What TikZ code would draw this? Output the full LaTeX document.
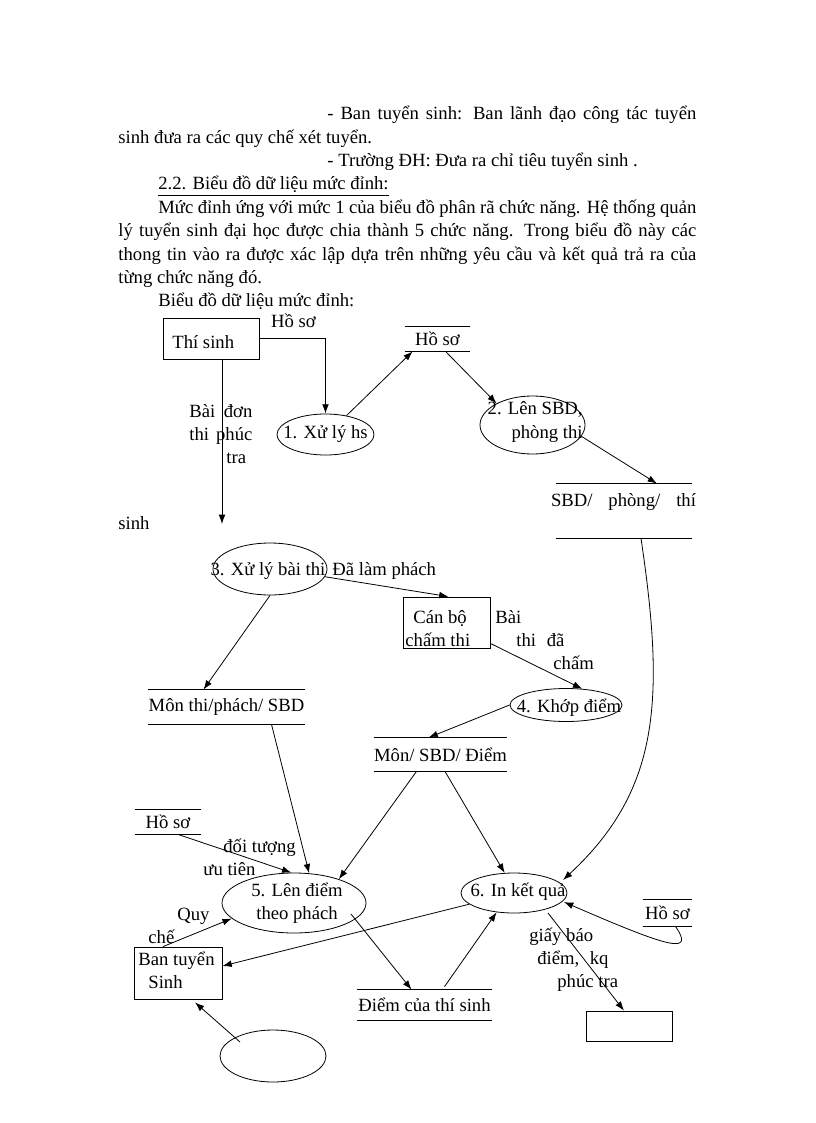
\documentclass[tikz,border=0pt]{standalone}
\usepackage{fontspec}
\setmainfont{Liberation Serif}
\usetikzlibrary{arrows.meta,shapes.geometric}
\newdimen\pxu
\pxu=0.75pt
\tikzset{
  proc/.style={draw, ellipse, inner sep=0pt},
  ent/.style={draw, rectangle, inner sep=0pt},
  store/.style={rectangle, inner sep=0pt},
  lbl/.style={inner sep=0pt, align=left},
  flow/.style={-{Latex[length=7pt,width=5pt]}},
}
\begin{document}
\begin{tikzpicture}[x=0.75pt, y=-0.75pt, line width=0.6pt,
    font=\fontsize{14pt}{17.3pt}\selectfont]
      \path[fill=white] (0,0) rectangle (816,1123);
      \useasboundingbox (0,0) rectangle (816,1123);
      \begin{scope}[every node/.style={anchor=base west, inner sep=0pt}]
        \node (l1) at (327,120) {\hbox to 369\pxu{- Ban tuyển sinh: Ban lãnh đạo công tác tuyển}};
        \node (l2) at (118,143.3) {sinh đưa ra các quy chế xét tuyển.};
        \node (l3) at (327,166.6) {- Trường ĐH: Đưa ra chỉ tiêu tuyển sinh .};
        \node (l4) at (158,190) {\underline{2.2. Biểu đồ dữ liệu mức đỉnh:}};
        \node (l5) at (158,213.3) {\hbox to 538\pxu{Mức đỉnh ứng với mức 1 của biểu đồ phân rã chức năng. Hệ thống quản}};
        \node (l6) at (118,236.6) {\hbox to 578\pxu{lý tuyển sinh đại học được chia thành 5 chức năng. Trong biểu đồ này các}};
        \node (l7) at (118,260) {\hbox to 578\pxu{thong tin vào ra được xác lập dựa trên những yêu cầu và kết quả trả ra của}};
        \node (l8) at (118,283.3) {từng chức năng đó.};
        \node (l9) at (158,306.6) {Biểu đồ dữ liệu mức đỉnh:};
      \end{scope}
      \node[ent, minimum width=96\pxu, minimum height=41\pxu] (ts) at (211,338.5) {};
      \node[lbl, anchor=west] (tsT) at (172,342) {Thí sinh};
      \node[lbl] (hs0) at (293.5,321) {Hồ sơ};
      \node[proc, minimum width=97\pxu, minimum height=41\pxu] (p1) at (325.5,434.5) {};
      \node[lbl] (p1T) at (p1) {1. Xử lý hs};
      \node[proc, minimum width=105\pxu, minimum height=58\pxu] (p2) at (532.5,425) {};
      \node[lbl, align=right, anchor=east] (p2T) at (583,422) {2. Lên SBD,\\phòng thi};
      \node[proc, minimum width=114\pxu, minimum height=52\pxu] (p3) at (270,569) {};
      \node[lbl] (p3T) at (268,571) {3. Xử lý bài thi};
      \node[lbl, anchor=west] (dlp) at (332,571) {Đã làm phách};
      \node[proc, minimum width=112\pxu, minimum height=33\pxu] (p4) at (566,705) {};
      \node[lbl] (p4T) at (569,708) {4. Khớp điểm};
      \node[proc, minimum width=144\pxu, minimum height=60\pxu] (p5) at (294,903) {};
      \node[lbl, align=center] (p5T) at (297,903) {5. Lên điểm\\theo phách};
      \node[proc, minimum width=106\pxu, minimum height=40\pxu] (p6) at (514,893) {};
      \node[lbl] (p6T) at (518,892) {6. In kết quả};
      \node[ent, minimum width=87\pxu, minimum height=51\pxu] (cb) at (446.5,622.5) {};
      \node[lbl, anchor=west] (cbT) at (405,629) {\hspace*{8\pxu}Cán bộ\\chấm thi};
      \node[ent, minimum width=88\pxu, minimum height=52\pxu] (ban) at (178,973) {};
      \node[lbl, anchor=west] (banT) at (138,970.5) {Ban tuyển\\\hspace*{10\pxu}Sinh};
      \node[ent, minimum width=86\pxu, minimum height=30\pxu] (ebox) at (629,1026) {};
      \node[proc, minimum width=106\pxu, minimum height=52\pxu] (eell) at (273,1056) {};
      \node[store, minimum width=65\pxu, minimum height=24\pxu] (s1) at (437.5,339) {Hồ sơ};
      \node[store, minimum width=136\pxu, minimum height=54\pxu] (sSBD) at (624,511) {};
      \node[lbl] (sbdT) at (623.5,502) {\hbox to 145\pxu{SBD/ phòng/ thí}};
      \node[lbl, anchor=west] (sbdT2) at (118,523) {sinh};
      \node[store, minimum width=143\pxu, minimum height=34\pxu] (sMon1) at (226.5,707) {Môn thi/phách/ SBD};
      \node[store, minimum width=125\pxu, minimum height=33\pxu] (sMon2) at (440.5,754.5) {Môn/ SBD/ Điểm};
      \node[store, minimum width=66\pxu, minimum height=24\pxu] (sHoso2) at (168,822) {Hồ sơ};
      \node[store, minimum width=135\pxu, minimum height=30\pxu] (sDiem) at (424.5,1005) {Điểm của thí sinh};
      \node[store, minimum width=49\pxu, minimum height=26\pxu] (sHoso3) at (667.5,913) {Hồ sơ};
      \foreach \s in {s1,sSBD,sMon1,sMon2,sHoso2,sDiem,sHoso3}
        \draw (\s.north west) -- (\s.north east) (\s.south west) -- (\s.south east);
      \coordinate (c1) at (222,524);
      \node[lbl, anchor=west] (bdT) at (189,434) {\makebox[63\pxu][s]{Bài đơn}\\\makebox[63\pxu][s]{thi phúc}\\\hspace*{37\pxu}tra};
      \node[lbl, anchor=west] (btd) at (495,640) {Bài\\\hspace*{21\pxu}\makebox[48\pxu][s]{thi đã}\\\hspace*{58\pxu}chấm};
      \node[lbl, anchor=west] (ut) at (203,857) {\hspace*{20\pxu}đối tượng\\ưu tiên};
      \node[lbl, anchor=west] (qc) at (148,925.5) {\hspace*{29\pxu}Quy\\chế};
      \node[lbl, anchor=west] (gb) at (529,960) {giấy báo\\\hspace*{8\pxu}\makebox[71\pxu][s]{điểm, kq}\\\hspace*{28\pxu}phúc tra};
      \begin{scope}[flow]
        \draw (ts.east) -| (p1.north);
        \draw (p1.42) -- ([shift={(8,0)}]s1.south west);
        \draw ([shift={(8,0)}]s1.south) -- (p2.149);
        \draw (p2.-13) -- ([shift={(33,0)}]sSBD.north);
        \draw (ts.south -| c1) -- (c1);
        \draw (p3.-8) -- ([shift={(2,0)}]cb.north);
        \draw (p3.south) -- ([shift={(-23,0)}]sMon1.north);
        \draw ([shift={(0,-5)}]cb.south east) -- (p4.45);
        \draw (p4.west) -- ([shift={(-12,0)}]sMon2.north);
        \draw ([shift={(45,0)}]sMon1.south) -- (p5.63);
        \draw ([shift={(-24,0)}]sMon2.south) -- (p5.28);
        \draw ([shift={(4.5,0)}]sMon2.south) -- (p6.115);
        \draw ([shift={(17,0)}]sSBD.south) .. controls (665,700) and (660,790) .. ([shift={(49,-13)}]p6.center);
        \draw ([shift={(10,0)}]sHoso2.south) -- (p5.95);
        \draw ([shift={(-15,0)}]ban.north) -- (p5.194);
        \draw (p6.194) -- ([shift={(0,-7)}]ban.east);
        \draw ([shift={(57,11)}]p5.center) -- ([shift={(-13,0)}]sDiem.north);
        \draw ([shift={(20,-3)}]sDiem.north) -- (p6.228);
        \draw ([shift={(34,20)}]p6.center) -- ([shift={(-5,0)}]ebox.north);
        \draw ([shift={(8,0)}]sHoso3.south) .. controls (695,955) and (670,948) .. ([shift={(50,9)}]p6.center);
        \draw ([shift={(-33,-14)}]eell.center) -- ([shift={(17,3)}]ban.south);
      \end{scope}
    \end{tikzpicture}
\end{document}
